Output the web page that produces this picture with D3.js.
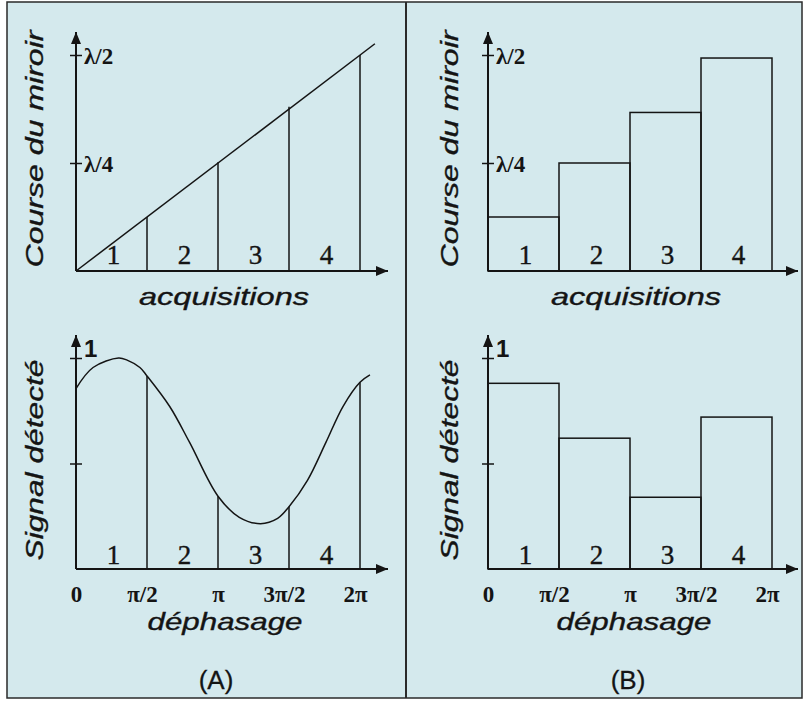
<!DOCTYPE html>
<html>
<head>
<meta charset="utf-8">
<script src="https://cdn.jsdelivr.net/npm/d3@7"></script>
<style>
  html, body { margin: 0; padding: 0; background: #ffffff; }
  svg { display: block; }
</style>
</head>
<body>
<svg id="chart" width="809" height="711"></svg>
<script>
// ---- data ----
// acquisition index (end of each acquisition interval)
const acquisitions = [1, 2, 3, 4];
const acqLabels = ["1", "2", "3", "4"];
// mirror travel (in units of lambda) reached at the end of each acquisition, continuous ramp
const mirrorRamp = [0.125, 0.252, 0.38, 0.5];
// ramp start and end point [acquisition, travel]
const rampStart = [0, 0];
const rampEnd = [4.21, 0.526];
// mirror travel held during each acquisition, stepped drive
const mirrorSteps = [0.125, 0.25, 0.367, 0.493];
const mirrorTicks = [0.25, 0.5];
const mirrorTickLabels = ["λ/4", "λ/2"];

// phase shift in multiples of pi
const phaseTicks = [0, 0.5, 1, 1.5, 2];
const phaseTickLabels = ["0", "π/2", "π", "3π/2", "2π"];
// detected signal along the phase shift (phase in multiples of pi, normalised signal)
const signalPhase = [0, 0.12, 0.3, 0.36, 0.45, 0.5, 0.66, 0.8, 1.0, 1.15, 1.3, 1.42, 1.5, 1.63, 1.76, 1.88, 2.0, 2.07];
const signalValue = [0.855, 0.955, 1.0, 0.99, 0.955, 0.915, 0.77, 0.6, 0.345, 0.245, 0.215, 0.24, 0.295, 0.42, 0.6, 0.77, 0.885, 0.92];
// integrated signal for each acquisition, stepped drive
const signalSteps = [0.88, 0.62, 0.34, 0.72];
const signalTicks = [0.5, 1];
const signalTickLabels = ["", "1"];

const panelNames = ["(A)", "(B)"];

// ---- layout ----
const svg = d3.select("#chart");
const bg = "#d4e9ed";
const ink = "#141414";

svg.append("rect").attr("x", 7).attr("y", 2).attr("width", 795).attr("height", 696)
  .attr("fill", bg).attr("stroke", "#2a2a2a").attr("stroke-width", 1.5);
svg.append("line").attr("x1", 406).attr("x2", 406).attr("y1", 2).attr("y2", 698)
  .attr("stroke", "#2a2a2a").attr("stroke-width", 2);

const defs = svg.append("defs");
defs.append("marker").attr("id", "arrow").attr("viewBox", "0 0 12 10")
  .attr("refX", 12).attr("refY", 5).attr("markerWidth", 12).attr("markerHeight", 10)
  .attr("markerUnits", "userSpaceOnUse").attr("orient", "auto")
  .append("path").attr("d", "M0,0 L12,5 L0,10 Z").attr("fill", ink);

const serif = "'Liberation Serif', 'Times New Roman', serif";
const sans = "'Liberation Sans', Arial, sans-serif";

const panels = [
  { x0: 76, stepped: false, arrowX: 388, name: panelNames[0], titleX: 224 },
  { x0: 488, stepped: true, arrowX: 798, name: panelNames[1], titleX: 636 }
];

const unitW = 71;
const topY0 = 271, topY1 = 55;
const botY0 = 569, botY1 = 358;

function axes(g, x0, y0, arrowTopY, arrowX) {
  g.append("line").attr("x1", x0).attr("y1", y0).attr("x2", x0).attr("y2", arrowTopY)
    .attr("stroke", ink).attr("stroke-width", 2).attr("marker-end", "url(#arrow)");
  g.append("line").attr("x1", x0).attr("y1", y0).attr("x2", arrowX).attr("y2", y0)
    .attr("stroke", ink).attr("stroke-width", 2).attr("marker-end", "url(#arrow)");
}

function yTicks(g, scale, x0, values, labels, labelFont, labelSize, labelWeight, dy) {
  const ax = d3.axisLeft(scale).tickValues(values).tickSize(6)
    .tickFormat((d, i) => labels[i]);
  const a = g.append("g").attr("transform", `translate(${x0},0)`).call(ax);
  a.select(".domain").remove();
  a.selectAll(".tick line").attr("x1", -6).attr("x2", 6).attr("stroke", ink).attr("stroke-width", 1.5);
  a.selectAll(".tick text").attr("x", 8).attr("dy", dy).attr("text-anchor", "start")
    .attr("fill", ink).style("font-family", labelFont).style("font-size", labelSize + "px")
    .style("font-weight", labelWeight);
}

function styleTitle(t) {
  t.style("font-family", sans).style("font-style", "italic").style("font-size", "24px")
    .attr("fill", ink).attr("stroke", ink).attr("stroke-width", 0.35);
}

function rotatedTitle(g, text, cx, cy, len) {
  g.append("text").attr("transform", `translate(${cx},${cy}) rotate(-90)`)
    .attr("text-anchor", "middle").attr("textLength", len).attr("lengthAdjust", "spacingAndGlyphs")
    .call(styleTitle).text(text);
}

function flatTitle(g, text, cx, cy, len) {
  g.append("text").attr("x", cx).attr("y", cy).attr("text-anchor", "middle")
    .attr("textLength", len).attr("lengthAdjust", "spacingAndGlyphs")
    .call(styleTitle).text(text);
}

function digits(g, xs, y) {
  g.selectAll(null).data(acquisitions).join("text")
    .attr("x", d => xs(d - 0.5) + 2).attr("y", y)
    .attr("text-anchor", "middle").style("font-family", serif).style("font-size", "27px")
    .attr("fill", ink).attr("stroke", ink).attr("stroke-width", 0.4)
    .text((d, i) => acqLabels[i]);
}

panels.forEach(p => {
  const g = svg.append("g");
  const xAcq = d3.scaleLinear().domain([0, 4]).range([p.x0, p.x0 + 4 * unitW]);
  const xPhase = d3.scaleLinear().domain([0, 2]).range([p.x0, p.x0 + 4 * unitW]);
  const yMirror = d3.scaleLinear().domain([0, 0.5]).range([topY0, topY1]);
  const ySignal = d3.scaleLinear().domain([0, 1]).range([botY0, botY1]);

  // ---------- upper chart: mirror travel ----------
  axes(g, p.x0, topY0, 32, p.arrowX);
  yTicks(g, yMirror, p.x0, mirrorTicks, mirrorTickLabels, serif, 23, "bold", "0.35em");

  if (!p.stepped) {
    g.append("line")
      .attr("x1", xAcq(rampStart[0])).attr("y1", yMirror(rampStart[1]))
      .attr("x2", xAcq(rampEnd[0])).attr("y2", yMirror(rampEnd[1]))
      .attr("stroke", ink).attr("stroke-width", 1.5);
    g.selectAll(null).data(acquisitions).join("line")
      .attr("x1", d => xAcq(d)).attr("x2", d => xAcq(d))
      .attr("y1", yMirror(0)).attr("y2", (d, i) => yMirror(mirrorRamp[i]))
      .attr("stroke", ink).attr("stroke-width", 1.5);
  } else {
    g.selectAll(null).data(acquisitions).join("rect")
      .attr("x", d => xAcq(d - 1)).attr("width", unitW)
      .attr("y", (d, i) => yMirror(mirrorSteps[i]))
      .attr("height", (d, i) => yMirror(0) - yMirror(mirrorSteps[i]))
      .attr("fill", "none").attr("stroke", ink).attr("stroke-width", 1.5);
  }
  digits(g, xAcq, topY0 - 7);
  flatTitle(g, "acquisitions", p.titleX, 305, 170);
  rotatedTitle(g, "Course du miroir", p.x0 - 33 - (p.stepped ? -3 : 0), 149, 237);

  // ---------- lower chart: detected signal ----------
  axes(g, p.x0, botY0, 335, p.arrowX);
  yTicks(g, ySignal, p.x0, signalTicks, signalTickLabels, sans, 24, "bold", "-0.05em");

  if (!p.stepped) {
    const pts = signalPhase.map((ph, i) => [ph, signalValue[i]]);
    g.append("path").datum(pts)
      .attr("d", d3.line().x(d => xPhase(d[0])).y(d => ySignal(d[1])).curve(d3.curveCatmullRom.alpha(0.5)))
      .attr("fill", "none").attr("stroke", ink).attr("stroke-width", 1.5);
    const bounds = phaseTicks.slice(1);
    g.selectAll(null).data(bounds).join("line")
      .attr("x1", d => xPhase(d)).attr("x2", d => xPhase(d))
      .attr("y1", ySignal(0)).attr("y2", d => ySignal(signalValue[signalPhase.indexOf(d)]))
      .attr("stroke", ink).attr("stroke-width", 1.5);
  } else {
    g.selectAll(null).data(acquisitions).join("rect")
      .attr("x", d => xAcq(d - 1)).attr("width", unitW)
      .attr("y", (d, i) => ySignal(signalSteps[i]))
      .attr("height", (d, i) => ySignal(0) - ySignal(signalSteps[i]))
      .attr("fill", "none").attr("stroke", ink).attr("stroke-width", 1.5);
  }
  digits(g, xAcq, botY0 - 5);

  const xa = d3.axisBottom(xPhase).tickValues(phaseTicks).tickSize(0).tickPadding(17)
    .tickFormat((d, i) => phaseTickLabels[i]);
  const xg = g.append("g").attr("transform", `translate(0,${botY0})`).call(xa);
  xg.select(".domain").remove();
  xg.selectAll(".tick text").attr("dx", (d, i) => i === 0 || i === 2 ? 0 : -5)
    .attr("fill", ink).style("font-family", serif).style("font-size", "23px").style("font-weight", "bold");

  flatTitle(g, "déphasage", p.titleX + (p.stepped ? -2 : 1), 630, 155);
  rotatedTitle(g, "Signal détecté", p.x0 - 33 - (p.stepped ? -3 : 0), 460, 201);

  g.append("text").attr("x", p.titleX - 8).attr("y", 689).attr("text-anchor", "middle")
    .style("font-family", sans).style("font-size", "26px")
    .attr("fill", ink).attr("stroke", ink).attr("stroke-width", 0.3).text(p.name);
});
</script>
</body>
</html>
